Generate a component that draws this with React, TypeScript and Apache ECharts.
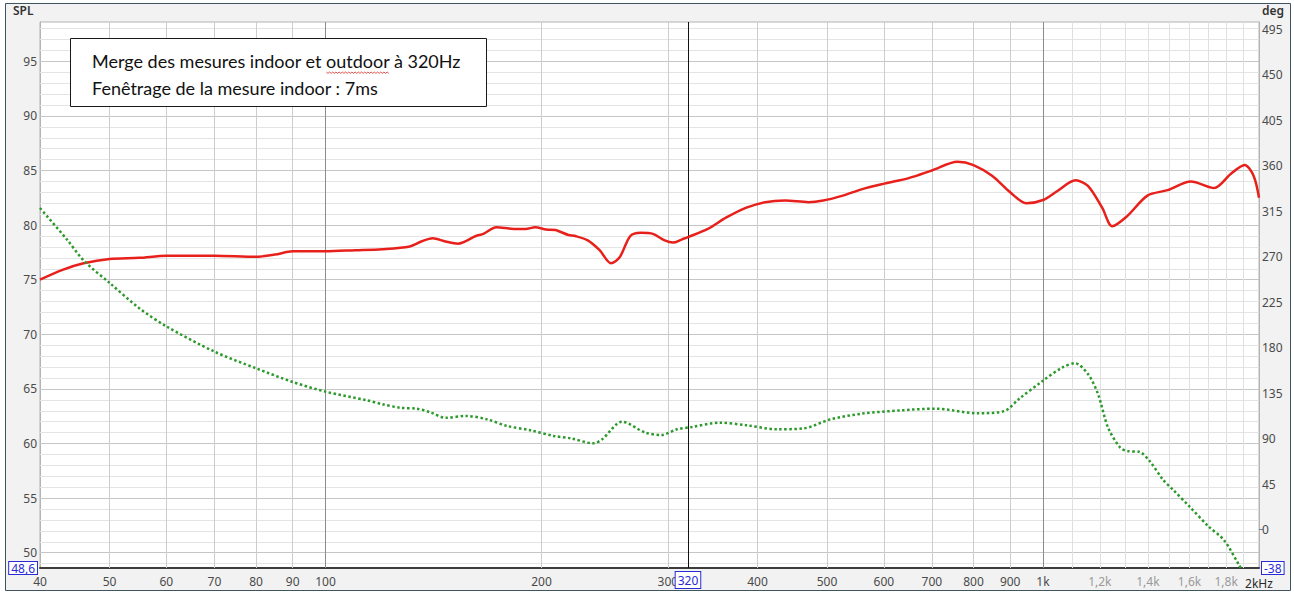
import { useEffect, useRef } from 'react';
import * as echarts from 'echarts';

// SPL curve (left axis, dB)
const splFreq = [
  40, 43, 46, 50, 55, 60, 70, 80, 85, 90, 100, 110, 120, 131, 136, 141, 147, 153,
  162, 166, 173, 183, 190, 196, 203, 209, 218, 223, 232, 241, 250, 257, 266, 275,
  286, 297, 305, 314, 320, 341, 362, 386, 410, 437, 471, 494, 526, 560, 601, 650,
  700, 760, 800, 850, 900, 949, 1000, 1046, 1110, 1155, 1209, 1249, 1309, 1398,
  1491, 1607, 1732, 1828, 1910, 1966, 2000,
];
const splDb = [
  75.0, 75.9, 76.5, 76.9, 77.0, 77.2, 77.2, 77.1, 77.3, 77.6, 77.6, 77.7, 77.8, 78.05, 78.5, 78.8, 78.5, 78.3,
  79.0, 79.2, 79.8, 79.65, 79.65, 79.8, 79.6, 79.55, 79.1, 79.0, 78.6, 77.7, 76.5, 77.05, 79.0, 79.3,
  79.2, 78.6, 78.4, 78.7, 78.9, 79.65, 80.7, 81.6, 82.1, 82.25, 82.1, 82.25, 82.7, 83.3, 83.8, 84.3,
  85.0, 85.8, 85.5, 84.5, 83.0, 82.0, 82.3, 83.1, 84.1, 83.6, 81.6, 79.9, 80.8, 82.7,
  83.2, 84.0, 83.4, 84.7, 85.5, 84.5, 82.5,
];

// Phase curve (right axis, degrees)
const phaseFreq = [
  40, 43.6, 46.1, 50, 55, 60, 70, 80, 90, 100, 114, 120, 127, 134, 140, 147, 157, 168,
  179, 193, 208, 220, 236, 243, 259, 279, 294, 309, 324, 354, 386, 425, 464, 506,
  560, 634, 708, 811, 884, 925, 1000, 1065, 1108, 1155, 1193, 1232, 1281, 1311, 1364,
  1408, 1471, 1517, 1601, 1702, 1787, 1876, 1900,
];
const phaseDeg = [
  318, 287, 265.5, 244, 219, 201, 176, 159.5, 146, 136.4, 128, 124, 120.5, 119.5, 116, 110.5, 112.4, 109,
  102.5, 98.2, 92.6, 90.2, 85.3, 89.3, 106.7, 95.9, 93.6, 99.2, 101.4, 105.7, 103.2, 99.2, 100.1, 109.1,
  114.7, 117.9, 119.6, 115.0, 117.3, 129, 147.3, 160.5, 164.5, 153.9, 134.1, 100.9, 81, 77.7, 76.7,
  67.8, 49, 39.6, 22.6, 2.9, -10.3, -35, -42,
];

const freqTicks = [40, 50, 60, 70, 80, 90, 100, 200, 300, 400, 500, 600, 700, 800, 900, 1000, 1200, 1400, 1600, 1800, 2000];
const splTicks = [48.6, 50, 55, 60, 65, 70, 75, 80, 85, 90, 95];
const degTicks = [-38, 0, 45, 90, 135, 180, 225, 270, 315, 360, 405, 450, 495];

const freqGridMinor = [50, 60, 70, 80, 90, 200, 300, 400, 500, 600, 700, 800, 900];
const freqGridLight = [1100, 1200, 1300, 1400, 1500, 1600, 1700, 1800, 1900];
const freqGridMajor = [100, 1000];
const dbGridFrom = 49;
const dbGridTo = 98;
const cursorFreq = 320;

const SPL_MIN = 48.6;
const SPL_MAX = 98.6;
const DEG_MIN = -38;
const DEG_MAX = 502;

const noteLine1 = 'Merge des mesures indoor et outdoor à 320Hz';
const noteLine2 = 'Fenêtrage de la mesure indoor : 7ms';
const noteFont = '18px Lato';

const boxStyle = {
  color: '#2b2bd6',
  borderColor: '#2b2bd6',
  borderWidth: 1,
  backgroundColor: '#ffffff',
  padding: [0, 2, 0, 2],
  lineHeight: 14,
  fontSize: 12,
  fontFamily: 'Noto Sans',
};

export default function App() {
  const chartRef = useRef<HTMLDivElement>(null);

  useEffect(() => {
    if (!chartRef.current) return;
    const chart = echarts.init(chartRef.current, null, { renderer: 'svg' });

    const gridLines: any[] = [];
    for (let d = dbGridFrom; d <= dbGridTo; d++) {
      gridLines.push({
        yAxis: d,
        lineStyle: { color: d % 5 === 0 ? '#c6c6c6' : '#e4e4e4', width: 1, type: 'solid' },
      });
    }
    freqGridLight.forEach((f) =>
      gridLines.push({ xAxis: f, lineStyle: { color: '#e0e0e0', width: 1, type: 'solid' } })
    );
    freqGridMinor.forEach((f) =>
      gridLines.push({ xAxis: f, lineStyle: { color: '#cdcdcd', width: 1, type: 'solid' } })
    );
    freqGridMajor.forEach((f) =>
      gridLines.push({ xAxis: f, lineStyle: { color: '#8c8c8c', width: 1, type: 'solid' } })
    );

    // spell-check squiggle under "outdoor"
    const ctx = document.createElement('canvas').getContext('2d');
    let sqX0 = 333;
    let sqW = 64;
    if (ctx) {
      ctx.font = noteFont;
      sqX0 = 92 + ctx.measureText('Merge des mesures indoor et ').width;
      sqW = ctx.measureText('outdoor').width;
    }
    const squiggle: number[][] = [];
    for (let i = 0; i * 1.6 <= sqW; i++) {
      squiggle.push([sqX0 + i * 1.6, 72 + (i % 2 === 0 ? 0 : 1.4)]);
    }

    const labelFont = { color: '#4a4a4a', fontSize: 12, fontFamily: 'Noto Sans' };

    const option: any = {
      animation: false,
      backgroundColor: 'transparent',
      grid: {
        left: 40,
        right: 35,
        top: 22,
        bottom: 26,
        show: true,
        backgroundColor: '#ffffff',
        borderColor: '#b4b4b4',
        borderWidth: 1,
        outerBoundsMode: 'none',
      },
      xAxis: {
        type: 'log',
        logBase: 10,
        min: 40,
        max: 2000,
        axisLine: { show: true, onZero: false, lineStyle: { color: '#3c3c3c', width: 2 } },
        axisTick: { show: false },
        splitLine: { show: false },
        minorSplitLine: { show: false },
        axisLabel: {
          ...labelFont,
          margin: 7,
          customValues: freqTicks,
          showMinLabel: true,
          showMaxLabel: true,
          hideOverlap: false,
          formatter: (v: number) => {
            const f = Math.round(v);
            if (f === 2000) return '{k|2kHz}';
            if (f === 1000) return '1k';
            if (f > 1000) return '{l|' + (f / 1000).toFixed(1).replace('.', ',') + 'k}';
            return String(f);
          },
          rich: {
            k: { color: '#2a2a2a', fontSize: 12, fontFamily: 'Noto Sans', padding: [2, 0, 0, 0] },
            l: { color: '#9a9a9a', fontSize: 12, fontFamily: 'Noto Sans' },
          },
        },
      },
      yAxis: [
        {
          type: 'value',
          min: SPL_MIN,
          max: SPL_MAX,
          position: 'left',
          axisLine: { show: true, lineStyle: { color: '#b4b4b4', width: 1 } },
          axisTick: { show: false },
          splitLine: { show: false },
          axisLabel: {
            ...labelFont,
            margin: 3,
            customValues: splTicks,
            showMinLabel: true,
            formatter: (v: number) => (v < 49 ? '{box|48,6}' : String(Math.round(v))),
            rich: { box: boxStyle },
          },
        },
        {
          type: 'value',
          min: DEG_MIN,
          max: DEG_MAX,
          position: 'right',
          axisLine: { show: true, lineStyle: { color: '#b4b4b4', width: 1 } },
          axisTick: {
            show: true,
            customValues: [0],
            length: 4,
            lineStyle: { color: '#6a7fa8', width: 1 },
          },
          splitLine: { show: false },
          axisLabel: {
            ...labelFont,
            margin: 3,
            customValues: degTicks,
            showMinLabel: true,
            formatter: (v: number) => (v < -30 ? '{box|-38}' : String(Math.round(v))),
            rich: { box: boxStyle },
          },
        },
      ],
      series: [
        {
          name: 'SPL',
          type: 'line',
          yAxisIndex: 0,
          z: 3,
          data: splFreq.map((f, i) => [f, splDb[i]]),
          showSymbol: false,
          smooth: 0.3,
          lineStyle: { color: '#e8201c', width: 2.5 },
          markLine: {
            silent: true,
            z: 1,
            symbol: ['none', 'none'],
            label: { show: false },
            emphasis: { disabled: true },
            animation: false,
            data: gridLines,
          },
        },
        {
          name: 'Phase',
          type: 'line',
          yAxisIndex: 1,
          z: 4,
          data: phaseFreq.map((f, i) => [f, phaseDeg[i]]),
          showSymbol: false,
          smooth: 0.3,
          clip: true,
          lineStyle: { color: '#2b9a2b', width: 2.5, type: [2.5, 2.5] },
          markLine: {
            silent: true,
            z: 2,
            symbol: ['none', 'none'],
            emphasis: { disabled: true },
            animation: false,
            lineStyle: { color: '#111111', width: 1, type: 'solid' },
            label: {
              show: true,
              position: 'start',
              distance: 4,
              formatter: String(cursorFreq),
              ...boxStyle,
              padding: [1, 2, 1, 2],
            },
            data: [{ xAxis: cursorFreq }],
          },
        },
      ],
      graphic: [
        {
          type: 'rect',
          z: -10,
          silent: true,
          shape: { x: 5.5, y: 3.5, width: 1285, height: 587 },
          style: { fill: '#f2f2f2', stroke: '#3e5460', lineWidth: 1 },
        },
        {
          type: 'text',
          left: 13,
          top: 4,
          style: { text: 'SPL', fill: '#333333', font: '600 12px "Noto Sans"' },
        },
        {
          type: 'text',
          left: 1262,
          top: 4,
          style: { text: 'deg', fill: '#333333', font: '600 12px "Noto Sans"' },
        },
        {
          type: 'rect',
          z: 50,
          silent: true,
          shape: { x: 70.5, y: 38.5, width: 416, height: 68 },
          style: { fill: '#ffffff', stroke: '#1a1a1a', lineWidth: 1 },
        },
        {
          type: 'text',
          z: 51,
          x: 92,
          y: 61,
          style: { text: noteLine1, fill: '#111111', font: noteFont, verticalAlign: 'middle' },
        },
        {
          type: 'text',
          z: 51,
          x: 92,
          y: 88,
          style: { text: noteLine2, fill: '#111111', font: noteFont, verticalAlign: 'middle' },
        },
        {
          type: 'polyline',
          z: 51,
          silent: true,
          shape: { points: squiggle },
          style: { stroke: '#d42020', lineWidth: 0.8, fill: 'none' },
        },
      ],
    };

    chart.setOption(option);

    return () => {
      chart.dispose();
    };
  }, []);

  return (
    <div
      ref={chartRef}
      style={{ position: 'absolute', left: 0, top: 0, width: 1294, height: 594, background: '#ffffff' }}
    />
  );
}
